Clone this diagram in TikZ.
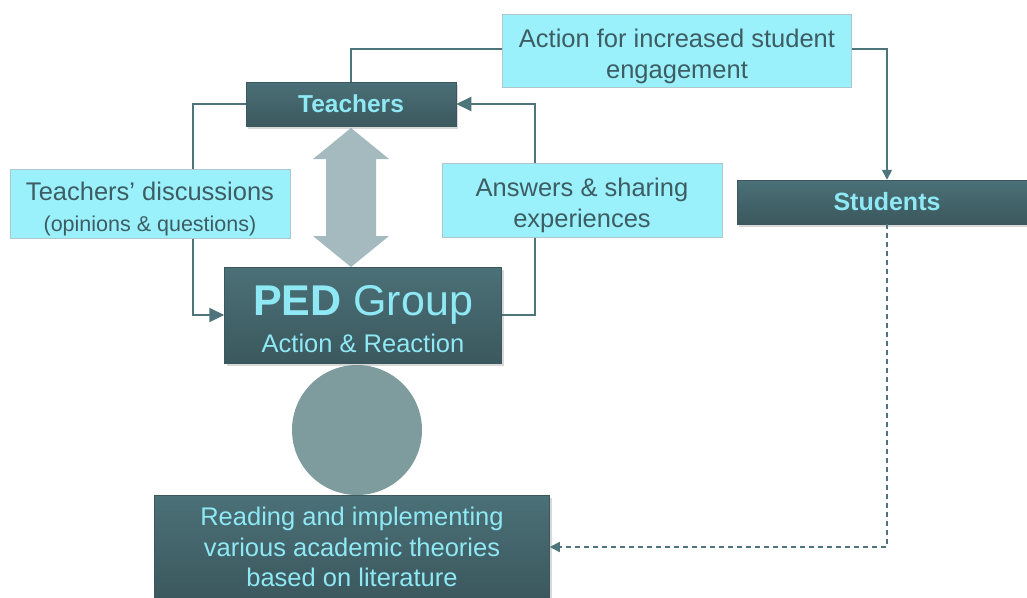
\documentclass[tikz,border=0pt]{standalone}
\usepackage{fontspec}
\setmainfont{Liberation Sans}
\usetikzlibrary{arrows.meta,shadows,positioning}
\definecolor{boxtop}{HTML}{4B7077}
\definecolor{boxbot}{HTML}{3B585E}
\definecolor{boxtext}{HTML}{8FE9F5}
\definecolor{labelfill}{HTML}{9AF1FC}
\definecolor{labelline}{HTML}{AFC6CA}
\definecolor{labeltext}{HTML}{3E5D62}
\definecolor{linkcol}{HTML}{4E757B}
\definecolor{dblfill}{HTML}{A4BABF}
\definecolor{disccol}{HTML}{7E9B9E}
\newcommand{\upstrut}{\rule{0pt}{29pt}}
\tikzset{
  darkbox/.style={top color=boxtop, bottom color=boxbot, draw=boxbot, line width=0.5pt,
    text=boxtext, align=center, inner sep=0pt,
    drop shadow={shadow xshift=2pt, shadow yshift=-3pt, opacity=0.3}},
  labelbox/.style={fill=labelfill, draw=labelline, line width=1pt, text=labeltext,
    align=center, inner sep=0pt},
  link/.style={draw=linkcol, line width=2pt, -{Triangle[length=15pt,width=14pt]}},
  thinlink/.style={draw=linkcol, line width=1.6pt, -{Triangle[length=10pt,width=10pt]}}
}

\begin{document}
\begin{tikzpicture}[x=1pt, y=-1pt, font=\fontsize{25.5}{31}\selectfont]
  \path[fill=white, use as bounding box] (0,0) rectangle (1027,597);
  % disc and double arrow behind the boxes
  \node[circle, fill=disccol, minimum size=130pt, inner sep=0pt] (disc) at (357,430) {};
  \fill[dblfill] (351,128) -- (389,159) -- (376,159) -- (376,236) -- (389,236) -- (351,267)
    -- (313,236) -- (326,236) -- (326,159) -- (313,159) -- cycle;
  % main boxes
  \node[darkbox, minimum width=210pt, minimum height=44pt, font=\fontsize{24.5}{28}\selectfont\bfseries] (teach) at (351,104) {Teachers};
  \node[darkbox, minimum width=300pt, minimum height=44pt, font=\fontsize{25}{28}\selectfont\bfseries] (stud) at (887,202) {Students};
  \node[darkbox, minimum width=277pt, minimum height=96pt] (ped) at (363,315)
    {{\rule{0pt}{39pt}\fontsize{43}{44}\selectfont\textbf{PED} Group}\\[6pt]{\fontsize{25.5}{28}\selectfont Action \& Reaction}};
  \node[darkbox, minimum width=395pt, minimum height=104pt, font=\fontsize{25.5}{30.5}\selectfont] (read) at (352,547)
    {Reading and implementing\\ various academic theories\\ based on literature};
  % connectors
  \draw[thinlink] (teach.north) -- ++(0,-33) -| (stud.north);
  \draw[link] (teach.west) -- ++(-53,0) |- (ped.west);
  \draw[link] (ped.east) -- ++(33,0) |- (teach.east);
  \draw[thinlink, dash pattern=on 5pt off 4pt] (stud.south) |- (read.east);
  % labels on the connectors
  \node[labelbox, minimum width=349pt, minimum height=73pt] (lbact) at (677,51)
    {\upstrut Action for increased student\\ engagement};
  \node[labelbox, minimum width=280pt, minimum height=69pt] (lbdisc) at (150,204)
    {\upstrut Teachers’ discussions\\ {\fontsize{21.5}{26}\selectfont(opinions \& questions)}};
  \node[labelbox, minimum width=280pt, minimum height=74pt] (lbans) at (582,200)
    {\upstrut Answers \& sharing\\ experiences};
\end{tikzpicture}
\end{document}
